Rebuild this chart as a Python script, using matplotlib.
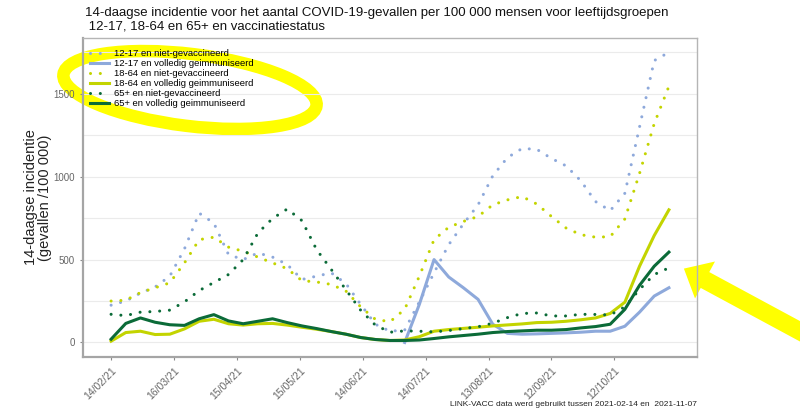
import numpy as np
import pandas as pd
import matplotlib
matplotlib.use('Agg')
import matplotlib.pyplot as plt
import matplotlib.dates as mdates
from matplotlib.patches import Ellipse, FancyArrow

plt.rcParams['font.family'] = ['Liberation Sans', 'DejaVu Sans']

# weekly values, 2021-02-14 .. 2021-11-07
dates = pd.date_range('2021-02-14', '2021-11-07', freq='7D')

nan = np.nan
jong_niet = [225, 250, 298, 335, 400, 565, 780, 720, 530, 500, 540, 515, 470, 380,
             400, 420, 355, 230, 110, 68, 75, 245, 420, 590, 715, 830, 1005, 1115,
             1170, 1165, 1110, 1065, 975, 850, 795, 900, 1300, 1700, 1750]
jong_vol = [nan] * 20 + [0, 230, 500, 395, 330, 260, 110, 55, 50, 52, 55, 58, 62,
                         68, 68, 98, 183, 280, 330]
volw_niet = [250, 255, 301, 330, 360, 480, 620, 635, 575, 550, 515, 480, 445, 373,
             365, 350, 310, 215, 140, 125, 200, 400, 620, 695, 730, 760, 830, 860,
             880, 835, 760, 690, 650, 635, 638, 745, 1020, 1320, 1545]
volw_vol = [8, 60, 68, 48, 50, 82, 128, 140, 113, 105, 113, 115, 105, 92, 80, 66,
            50, 30, 18, 12, 15, 35, 68, 78, 85, 92, 100, 106, 112, 120, 122, 128,
            137, 148, 175, 243, 460, 645, 800]
oud_niet = [170, 162, 183, 187, 195, 245, 313, 362, 410, 500, 660, 748, 805, 735,
            560, 440, 318, 195, 105, 62, 70, 68, 64, 72, 84, 95, 116, 150, 175, 178,
            160, 160, 170, 169, 166, 215, 320, 410, 450]
oud_vol = [20, 115, 148, 122, 107, 103, 143, 168, 130, 113, 128, 143, 120, 100, 84,
           66, 50, 30, 18, 12, 12, 15, 24, 34, 42, 50, 60, 66, 70, 74, 74, 78, 88,
           96, 110, 200, 345, 460, 545]

series = [
    ('12-17 en niet-gevaccineerd', jong_niet, '#8EA9DB', 'dot'),
    ('12-17 en volledig geimmuniseerd', jong_vol, '#8EA9DB', 'solid'),
    ('18-64 en niet-gevaccineerd', volw_niet, '#C3D400', 'dot'),
    ('18-64 en volledig geimmuniseerd', volw_vol, '#C3D400', 'solid'),
    ('65+ en niet-gevaccineerd', oud_niet, '#0B6B38', 'dot'),
    ('65+ en volledig geimmuniseerd', oud_vol, '#0B6B38', 'solid'),
]

fig = plt.figure(figsize=(8, 4.2), dpi=100)

# highlighter marks, drawn behind the (transparent) panel
hl = fig.add_axes([0, 0, 1, 1], zorder=0)
hl.set_xlim(0, 800)
hl.set_ylim(420, 0)
hl.axis('off')
hl.add_patch(Ellipse((190, 90), 255, 72, angle=7, fill=False,
                     edgecolor='#FFFF00', lw=9))
hl.add_patch(FancyArrow(805, 334, -100, -54, width=18, head_width=42,
                        head_length=24, color='#FFFF00', lw=0))

ax = fig.add_axes([0.104, 0.15, 0.767, 0.76], zorder=1)
ax.patch.set_alpha(0)

for label, vals, col, kind in series:
    if kind == 'dot':
        ax.plot(dates, vals, color=col, lw=2.2, ls=(0, (0.01, 3.2)),
                dash_capstyle='round', label=label)
    else:
        ax.plot(dates, vals, color=col, lw=2.2, label=label)

start = pd.Timestamp('2021-02-14')
ax.set_xlim(start - pd.Timedelta(days=13.3), pd.Timestamp('2021-11-07') + pd.Timedelta(days=13.3))
ax.set_ylim(-87.5, 1837.5)
ax.set_xticks(pd.date_range(start, periods=9, freq='30D'))
ax.xaxis.set_major_formatter(mdates.DateFormatter('%d/%m/%y'))
ax.set_yticks([0, 500, 1000, 1500])
ax.set_yticks([250, 750, 1250, 1750], minor=True)
ax.tick_params(axis='y', which='minor', length=0)
ax.grid(axis='y', which='both', color='#EBEBEB', lw=0.8)
ax.set_axisbelow(True)
plt.setp(ax.get_xticklabels(), rotation=45, ha='right', rotation_mode='anchor')
ax.tick_params(colors='#8A8A8A', labelcolor='#666666', labelsize=7, length=2.5)
ax.tick_params(axis='x', labelsize=7.5)

for s in ['left', 'bottom']:
    ax.spines[s].set_color('#A5A5A5')
    ax.spines[s].set_linewidth(1.6)
for s in ['top', 'right']:
    ax.spines[s].set_color('#B5B5B5')
    ax.spines[s].set_linewidth(1.0)

ax.set_ylabel('14-daagse incidentie\n(gevallen /100 000)', fontsize=10.5,
              color='#222222', labelpad=1, linespacing=1.0)

ax.legend(loc='upper left', bbox_to_anchor=(0.0, 0.985), frameon=False,
          fontsize=6.8, handlelength=2.0, labelspacing=0.1, handletextpad=0.6,
          borderaxespad=0.3)

fig.text(0.106, 0.953, '14-daagse incidentie voor het aantal COVID-19-gevallen per 100 000 '
         'mensen voor leeftijdsgroepen\n 12-17, 18-64 en 65+ en vaccinatiestatus',
         fontsize=9.5, color='#111111', va='center', ha='left', linespacing=1.1)
fig.text(0.871, 0.038, 'LINK-VACC data werd gebruikt tussen 2021-02-14 en  2021-11-07',
         fontsize=6, color='#222222', ha='right', va='center')

fig.savefig('out.png', dpi=100, facecolor='white')
